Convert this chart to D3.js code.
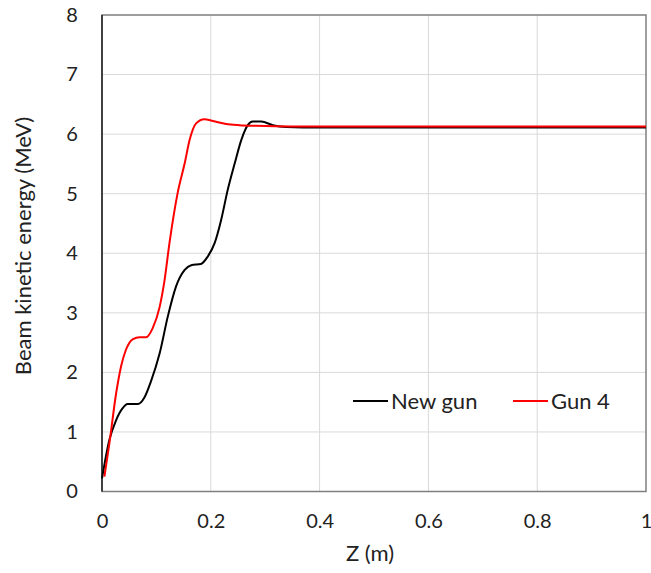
<!DOCTYPE html>
<html>
<head>
<meta charset="utf-8">
<script src="https://cdn.jsdelivr.net/npm/d3@7"></script>
<style>
body{margin:0;background:#fff;}
text{font-family:Lato,"Open Sans",sans-serif;fill:#222;}
</style>
</head>
<body>
<svg id="chart" width="651" height="573"></svg>
<script>
// Z (m) and energy (MeV)
var newGunZ = [0, 0.0136, 0.026, 0.038, 0.047, 0.066, 0.078, 0.090, 0.106, 0.121, 0.136, 0.152, 0.164, 0.182, 0.194, 0.207, 0.219, 0.231, 0.244, 0.256, 0.268, 0.277, 0.293, 0.314, 0.339, 0.4, 0.6, 0.8, 1];
var newGunE = [0.22, 0.87, 1.2, 1.40, 1.47, 1.47, 1.58, 1.85, 2.32, 2.94, 3.44, 3.72, 3.80, 3.82, 3.94, 4.17, 4.56, 5.06, 5.51, 5.90, 6.15, 6.21, 6.21, 6.15, 6.12, 6.11, 6.11, 6.11, 6.11];

var gun4Z = [0.0044, 0.0136, 0.026, 0.035, 0.044, 0.057, 0.069, 0.081, 0.093, 0.106, 0.115, 0.124, 0.139, 0.152, 0.161, 0.173, 0.188, 0.204, 0.228, 0.253, 0.283, 0.35, 0.6, 0.8, 1];
var gun4E = [0.25, 0.81, 1.65, 2.10, 2.38, 2.56, 2.59, 2.59, 2.74, 3.10, 3.55, 4.17, 5.01, 5.51, 5.90, 6.18, 6.25, 6.22, 6.17, 6.15, 6.14, 6.13, 6.13, 6.13, 6.13];

var xTicks = [0, 0.2, 0.4, 0.6, 0.8, 1];
var yTicks = [0, 1, 2, 3, 4, 5, 6, 7, 8];
var seriesNames = ["New gun", "Gun 4"];
var seriesColors = ["#000000", "#ff0000"];

var svg = d3.select("#chart");
var plotL = 102, plotR = 646, plotT = 15, plotB = 491.5;
var tickSize = "20px", titleSize = "22px";

var x = d3.scaleLinear().domain([0, 1]).range([plotL, plotR]);
var y = d3.scaleLinear().domain([0, 8]).range([plotB, plotT]);

// grid
svg.append("g").selectAll("line").data(xTicks.slice(1, -1)).enter().append("line")
  .attr("x1", d => x(d)).attr("x2", d => x(d)).attr("y1", plotT).attr("y2", plotB)
  .attr("stroke", "#d9d9d9").attr("stroke-width", 1);
svg.append("g").selectAll("line").data(yTicks.slice(1, -1)).enter().append("line")
  .attr("y1", d => y(d)).attr("y2", d => y(d)).attr("x1", plotL).attr("x2", plotR)
  .attr("stroke", "#d9d9d9").attr("stroke-width", 1);

// plot frame
svg.append("rect").attr("x", plotL).attr("y", plotT).attr("width", plotR - plotL).attr("height", plotB - plotT)
  .attr("fill", "none").attr("stroke", "#7f7f7f").attr("stroke-width", 1.5);
svg.append("line").attr("x1", plotL).attr("x2", plotL).attr("y1", plotT).attr("y2", plotB)
  .attr("stroke", "#222").attr("stroke-width", 1.5);

// tick labels
var xAxis = d3.axisBottom(x).tickValues(xTicks).tickSize(0).tickPadding(22).tickFormat(d3.format("~g"));
var gx = svg.append("g").attr("transform", "translate(0," + plotB + ")").call(xAxis);
gx.select(".domain").remove();
gx.selectAll("text").style("font-size", tickSize).attr("fill", "#222").style("font-family", "Lato");

var yAxis = d3.axisLeft(y).tickValues(yTicks).tickSize(0).tickFormat(d3.format("d"));
var gy = svg.append("g").attr("transform", "translate(" + plotL + ",0)").call(yAxis);
gy.select(".domain").remove();
gy.selectAll("text").style("font-size", tickSize).attr("fill", "#222").style("font-family", "Lato")
  .attr("text-anchor", "middle").attr("x", -30);

// axis titles
svg.append("text").attr("x", 370).attr("y", 561).attr("text-anchor", "middle")
  .style("font-size", titleSize).text("Z (m)");
svg.append("text").attr("transform", "translate(31,246) rotate(-90)").attr("text-anchor", "middle")
  .style("font-size", titleSize).text("Beam kinetic energy (MeV)");

// lines
var line = d3.line().x(d => x(d[0])).y(d => y(d[1])).curve(d3.curveMonotoneX);
var series = [d3.zip(newGunZ, newGunE), d3.zip(gun4Z, gun4E)];
series.forEach(function(s, i) {
  svg.append("path").datum(s).attr("d", line)
    .attr("fill", "none").attr("stroke", seriesColors[i]).attr("stroke-width", 2)
    .attr("stroke-linejoin", "round");
});

// legend
var legX = [353, 513];
seriesNames.forEach(function(name, i) {
  svg.append("line").attr("x1", legX[i]).attr("x2", legX[i] + 35).attr("y1", 401).attr("y2", 401)
    .attr("stroke", seriesColors[i]).attr("stroke-width", 2);
  svg.append("text").attr("x", legX[i] + 38).attr("y", 409).style("font-size", titleSize).text(name);
});
</script>
</body>
</html>
